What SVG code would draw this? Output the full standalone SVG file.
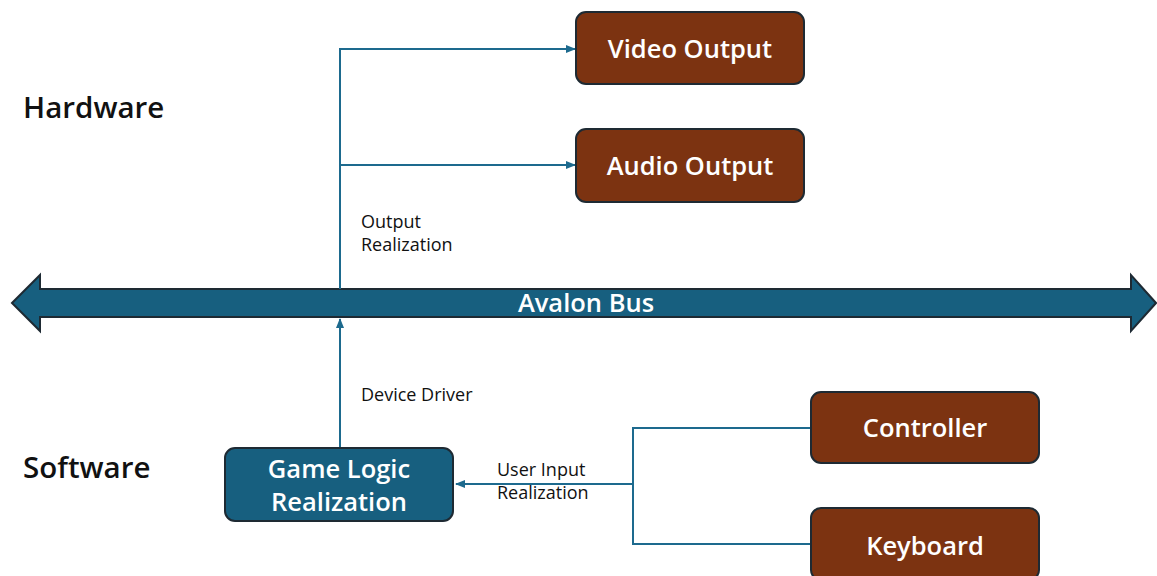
<svg xmlns="http://www.w3.org/2000/svg" width="1157" height="576" viewBox="0 0 1157 576">
<style>
text{font-family:"Open Sans","Noto Sans","Liberation Sans",sans-serif}
.hw{fill:#7c3311;stroke:#1e2a33;stroke-width:2}
.sw{fill:#175f7f;stroke:#1e2a33;stroke-width:2}
.bt{fill:#fff;font-size:25.5px;font-weight:600;text-anchor:middle}
.lbl{fill:#111;font-size:18px}
.sec{fill:#111;font-size:29.5px;font-weight:600}
.ln{fill:none;stroke:#1d6a8e;stroke-width:2}
</style>
<defs>
<marker id="ah" markerWidth="10" markerHeight="10" refX="9" refY="5" orient="auto" markerUnits="userSpaceOnUse">
<path d="M0,1 L10,5 L0,9 Z" fill="#1d6a8e"/>
</marker>
</defs>
<rect width="1157" height="576" fill="#fff"/>
<text class="sec" x="23" y="118">Hardware</text>
<text class="sec" x="23" y="478">Software</text>
<g id="bus">
<path d="M12,303 L40,275 L40,289 L1131,289 L1131,275 L1156,303 L1131,331 L1131,317 L40,317 L40,331 Z" fill="#175f7f" stroke="#1e2a33" stroke-width="2"/>
<text x="586" y="312" class="bt">Avalon Bus</text>
</g>
<g id="connectors">
<path class="ln" d="M340,289 L340,49 L575,49" marker-end="url(#ah)"/>
<path class="ln" d="M340,165 L575,165" marker-end="url(#ah)"/>
<path class="ln" d="M340,447 L340,319" marker-end="url(#ah)"/>
<path class="ln" d="M811,428 L633,428 L633,544 L811,544"/>
<path class="ln" d="M633,484 L456,484" marker-end="url(#ah)"/>
<text class="lbl" x="361" y="228">Output</text>
<text class="lbl" x="361" y="251">Realization</text>
<text class="lbl" x="361" y="401">Device Driver</text>
<text class="lbl" x="497" y="476">User Input</text>
<text class="lbl" x="497" y="499">Realization</text>
</g>
<g id="video">
<rect class="hw" x="576" y="12" width="228" height="72" rx="10"/>
<text class="bt" x="690" y="58">Video Output</text>
</g>
<g id="audio">
<rect class="hw" x="576" y="129" width="228" height="73" rx="10"/>
<text class="bt" x="690" y="175">Audio Output</text>
</g>
<g id="gamelogic">
<rect class="sw" x="225" y="448" width="228" height="73" rx="10"/>
<text class="bt" x="339" y="478">Game Logic</text>
<text class="bt" x="339" y="511">Realization</text>
</g>
<g id="controller">
<rect class="hw" x="811" y="392" width="228" height="71" rx="10"/>
<text class="bt" x="925" y="437">Controller</text>
</g>
<g id="keyboard">
<rect class="hw" x="811" y="508" width="228" height="72" rx="10"/>
<text class="bt" x="925" y="555">Keyboard</text>
</g>
</svg>
